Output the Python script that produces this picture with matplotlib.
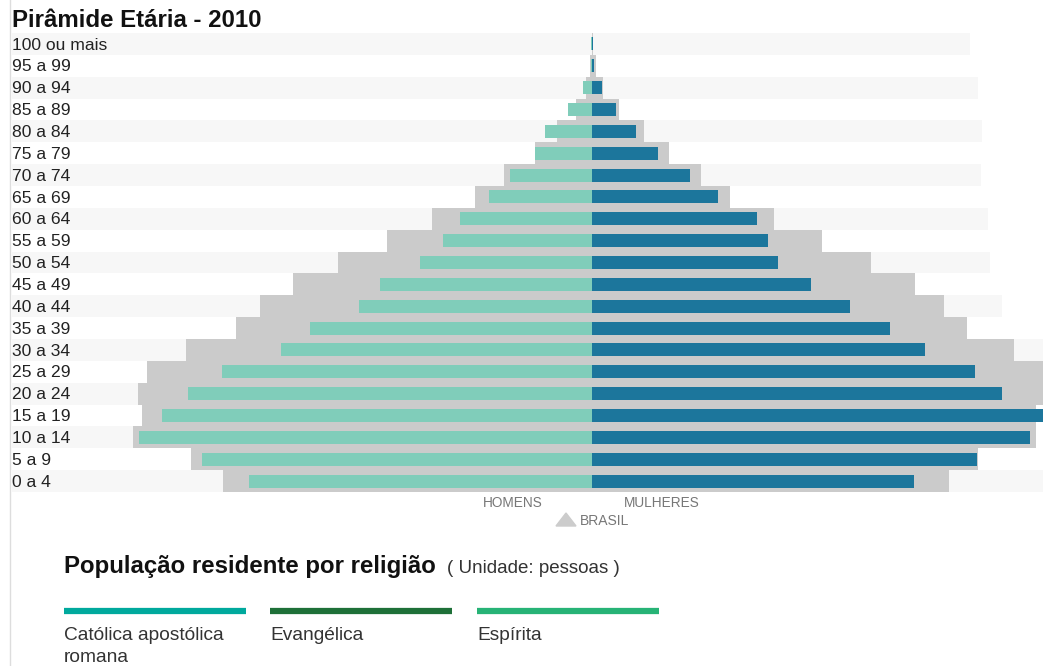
import matplotlib.pyplot as plt
import matplotlib.transforms as mtransforms

plt.rcParams['font.family'] = ['Liberation Sans', 'DejaVu Sans']

# faixas etárias, de baixo para cima
ages = ['0 a 4', '5 a 9', '10 a 14', '15 a 19', '20 a 24', '25 a 29', '30 a 34',
        '35 a 39', '40 a 44', '45 a 49', '50 a 54', '55 a 59', '60 a 64', '65 a 69',
        '70 a 74', '75 a 79', '80 a 84', '85 a 89', '90 a 94', '95 a 99', '100 ou mais']

# Brasil (milhares de pessoas)
brasil_homens = [7017, 7624, 8725, 8559, 8630, 8461, 7718, 6767, 6321, 5692, 4835,
                 3902, 3041, 2224, 1667, 1091, 669, 311, 115, 32, 7]
brasil_mulheres = [6779, 7345, 8441, 8432, 8615, 8643, 8027, 7122, 6689, 6141, 5305,
                   4374, 3468, 2617, 2074, 1473, 998, 509, 212, 67, 17]

# série selecionada (mesma escala do gráfico)
sel_homens = [6521, 7414, 8612, 8175, 7681, 7034, 5913, 5361, 4430, 4030, 3270,
              2833, 2510, 1958, 1559, 1084, 894, 456, 171, 10, 28]
sel_mulheres = [6122, 7319, 8327, 8935, 7795, 7281, 6331, 5665, 4905, 4163, 3536,
                3346, 3137, 2395, 1863, 1255, 837, 456, 190, 38, 19]

legend_labels = ['Católica apostólica\nromana', 'Evangélica', 'Espírita']
legend_colors = ['#00a99d', '#1e7038', '#27b376']

# onde termina cada faixa cinza-clara de fundo (px), de baixo para cima
stripe_end_px = [1043, None, 1036, None, 1043, None, 1043, None, 1002, None, 990,
                 None, 988, None, 981, None, 982, None, 978, None, 970]

W, H = 1043, 666
PX = 0.0526  # px por milhar

fig = plt.figure(figsize=(W / 100, H / 100), dpi=100)
ax = fig.add_axes([12 / W, 1 - 492 / H, 1 - 12 / W, 459 / H])
ax.set_xlim(-(592 - 12) / PX, (W - 592) / PX)
ax.set_ylim(-0.5, len(ages) - 0.5)

y = list(range(len(ages)))
for i, end in enumerate(stripe_end_px):
    if end is not None:
        ax.barh(i, (end - 12) / PX, left=-(592 - 12) / PX, height=1.0,
                color='#f7f7f7', zorder=0, lw=0)

ax.barh(y, [-v for v in brasil_homens], height=1.0, color='#cbcbcb', zorder=1)
ax.barh(y, brasil_mulheres, height=1.0, color='#cbcbcb', zorder=1)
ax.barh(y, [-v for v in sel_homens], height=0.6, color='#80cdba', zorder=2)
ax.barh(y, sel_mulheres, height=0.6, color='#1c769c', zorder=2)
ax.axis('off')

trans = mtransforms.blended_transform_factory(ax.transAxes, ax.transData)
for i, lab in enumerate(ages):
    ax.text(0.0, i - 0.05, lab, transform=trans, ha='left', va='center',
            fontsize=12.6, color='#222222', zorder=3)

fig.text(12 / W, 1 - 27 / H, 'Pirâmide Etária - 2010', fontsize=17.3,
         fontweight='bold', color='#111111', ha='left', va='baseline')

fig.add_artist(plt.Line2D([10 / W, 10 / W], [0, 1], color='#dddddd', lw=1))

fig.text(513 / W, 1 - 503 / H, 'HOMENS', fontsize=9.8, color='#777777',
         ha='center', va='center')
fig.text(662 / W, 1 - 503 / H, 'MULHERES', fontsize=9.8, color='#777777',
         ha='center', va='center')
fig.text(580 / W, 1 - 521 / H, 'BRASIL', fontsize=10, color='#777777',
         ha='left', va='center')
fig.add_artist(plt.Polygon([[556 / W, 1 - 526 / H], [576 / W, 1 - 526 / H],
                            [566 / W, 1 - 513 / H]], closed=True,
                           color='#cccccc', transform=fig.transFigure))

fig.text(64 / W, 1 - 573 / H, 'População residente por religião',
         fontsize=17.3, fontweight='bold', color='#111111', ha='left', va='baseline')
fig.text(447 / W, 1 - 573 / H, '( Unidade: pessoas )', fontsize=13.5,
         color='#333333', ha='left', va='baseline')

starts = [64, 270, 477]
for x0, lab, col in zip(starts, legend_labels, legend_colors):
    fig.add_artist(plt.Line2D([x0 / W, (x0 + 182) / W], [1 - 611 / H] * 2,
                              color=col, lw=4.5, solid_capstyle='butt'))
    for k, line in enumerate(lab.split('\n')):
        fig.text(x0 / W, 1 - (640 + 22 * k) / H, line, fontsize=13.8,
                 color='#333333', ha='left', va='baseline')

fig.savefig('out.png', dpi=100)
